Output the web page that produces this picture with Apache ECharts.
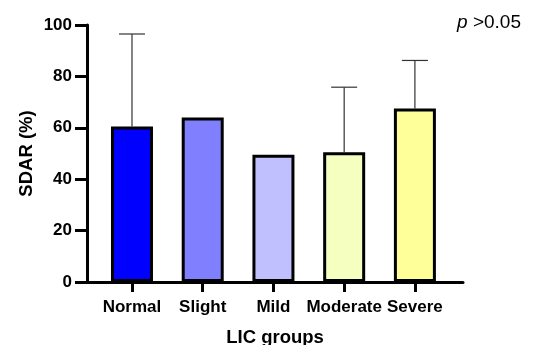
<!DOCTYPE html>
<html>
<head>
<meta charset="utf-8">
<title>SDAR by LIC groups</title>
<style>
  html, body { margin: 0; padding: 0; background: #fff; }
  #chart { width: 533px; height: 345px; }
</style>
<script src="https://cdn.jsdelivr.net/npm/echarts@6/dist/echarts.min.js"></script>
</head>
<body>
<div id="chart"></div>
<script>
  var groups = ['Normal', 'Slight', 'Mild', 'Moderate', 'Severe'];
  var sdar = [60.5, 64, 49.5, 50.5, 67.5];
  // upper end of the error bar (mean + SD); null = no bar drawn
  var sdarUpper = [96.5, null, null, 75.8, 86.2];
  var barColors = ['#0000ff', '#8080ff', '#c0c0ff', '#f4ffc0', '#ffff99'];
  var yTicks = [0, 20, 40, 60, 80, 100];

  var font = 'Liberation Sans, Arial, sans-serif';
  var chart = echarts.init(document.getElementById('chart'));

  var barData = sdar.map(function (v, i) {
    return { value: [i, v], itemStyle: { color: barColors[i] } };
  });
  var errData = [];
  sdarUpper.forEach(function (u, i) {
    if (u != null) errData.push([i, sdar[i], u]);
  });

  var option = {
    animation: false,
    textStyle: { fontFamily: font },
    grid: { left: 87, right: 70, top: 25, bottom: 63, outerBoundsMode: 'none' },
    xAxis: {
      type: 'value',
      min: -0.636,
      max: 4.68,
      name: 'LIC groups',
      nameLocation: 'middle',
      nameGap: 46,
      nameTextStyle: { fontSize: 18.5, fontWeight: 'bold', color: '#000', fontFamily: font },
      axisLine: { show: true, onZero: false, lineStyle: { color: '#000', width: 3 } },
      axisTick: { show: true, length: 10, lineStyle: { color: '#000', width: 3 },
                  customValues: [0, 1, 2, 3, 4] },
      axisLabel: {
        customValues: [0, 1, 2, 3, 4],
        margin: 17,
        fontSize: 17, fontWeight: 'bold', color: '#000', fontFamily: font,
        formatter: function (v) { return groups[Math.round(v)]; }
      },
      splitLine: { show: false }
    },
    yAxis: {
      type: 'value',
      min: 0, max: 100, interval: 20,
      name: 'SDAR (%)',
      nameLocation: 'middle',
      nameGap: 51,
      nameMoveOverlap: false,
      nameTextStyle: { fontSize: 18.5, fontWeight: 'bold', color: '#000', fontFamily: font },
      axisLine: { show: true, onZero: false, lineStyle: { color: '#000', width: 3 } },
      axisTick: { show: true, length: 12, lineStyle: { color: '#000', width: 3 } },
      axisLabel: {
        margin: 15, fontSize: 17, fontWeight: 'bold', color: '#000', fontFamily: font,
        formatter: function (v) { return yTicks.indexOf(v) >= 0 ? String(v) : ''; }
      },
      splitLine: { show: false }
    },
    graphic: [{
      type: 'text',
      right: 12, top: 13,
      style: {
        text: '{i|p} >0.05',
        rich: { i: { fontStyle: 'italic', fontSize: 19, fontFamily: font, fill: '#000' } },
        fontSize: 19, fontFamily: font, fill: '#000'
      }
    }],
    series: [
      {
        type: 'custom',
        z: 1,
        data: errData,
        renderItem: function (params, api) {
          var base = api.coord([api.value(0), api.value(1)]);
          var top = api.coord([api.value(0), api.value(2)]);
          var half = 13;
          var st = { stroke: '#333', lineWidth: 1.2 };
          return {
            type: 'group',
            children: [
              { type: 'line', shape: { x1: base[0], y1: base[1], x2: top[0], y2: top[1] }, style: st },
              { type: 'line', shape: { x1: top[0] - half, y1: top[1], x2: top[0] + half, y2: top[1] }, style: st }
            ]
          };
        }
      },
      {
        type: 'bar',
        z: 2,
        barWidth: 42,
        data: barData,
        itemStyle: { borderColor: '#000', borderWidth: 3 }
      }
    ]
  };
  chart.setOption(option);
</script>
</body>
</html>
